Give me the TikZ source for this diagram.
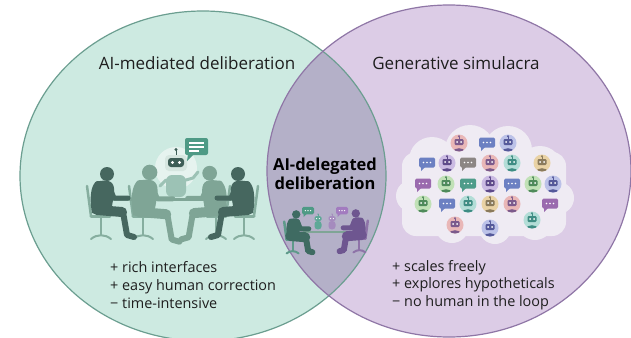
\documentclass[tikz,border=0pt]{standalone}
\usepackage{fontspec}
\setmainfont{Open Sans}
\definecolor{lfill}{HTML}{CDEAE1}
\definecolor{lline}{HTML}{6B9E90}
\definecolor{rfill}{HTML}{DCCCE6}
\definecolor{rline}{HTML}{8F76A6}
\definecolor{ofill}{HTML}{B4B0C8}
\definecolor{txt}{HTML}{1E1E1E}
\definecolor{darkfig}{HTML}{46675F}
\definecolor{lightfig}{HTML}{7FA596}
\definecolor{chaircol}{HTML}{86AE9F}
\definecolor{glow}{HTML}{E6F3EF}
\definecolor{rhead}{HTML}{D6E6E0}
\definecolor{visor}{HTML}{3E5E57}
\definecolor{rbody}{HTML}{9CC2B5}
\definecolor{tealbub}{HTML}{4E9A85}
\definecolor{mteal}{HTML}{3F6B62}
\definecolor{mpurple}{HTML}{6E5690}
\definecolor{mtealchair}{HTML}{5E9A8A}
\definecolor{mpurchair}{HTML}{8E73A8}
\definecolor{mtealbot}{HTML}{5EA897}
\definecolor{mpurbot}{HTML}{A58BBE}
\definecolor{mpurbub}{HTML}{A27BBF}
\definecolor{cloudcol}{HTML}{EFEBF3}
\definecolor{pinkbg}{HTML}{E9B7B7}\definecolor{pinkfg}{HTML}{7B5A8C}
\definecolor{bluebg}{HTML}{BCC2E8}\definecolor{bluefg}{HTML}{55599A}
\definecolor{tealbg}{HTML}{B3DDD7}\definecolor{tealfg}{HTML}{3E8C83}
\definecolor{tanbg}{HTML}{E9D2A5}\definecolor{tanfg}{HTML}{8A7A5C}
\definecolor{greenbg}{HTML}{C1E1B7}\definecolor{greenfg}{HTML}{4F8A5B}
\definecolor{purpbg}{HTML}{CBBBE3}\definecolor{purpfg}{HTML}{5E4A8A}
\definecolor{bubblue}{HTML}{6C80C2}
\definecolor{bubgray}{HTML}{8C8684}
\definecolor{bubteal}{HTML}{4E9C8A}
\definecolor{bubpurp}{HTML}{9A6AAE}
\tikzset{
  titletext/.style={text=txt, font=\fontsize{17}{20}\selectfont, inner sep=0pt},
  midtext/.style={text=black, font=\fontsize{16.5}{18.5}\selectfont\bfseries, align=center, inner sep=0pt},
  listtext/.style={text=txt, font=\fontsize{14.4}{17.6}\selectfont, align=left, inner sep=0pt, anchor=west},
  pics/seated/.style={code={
    \fill[#1] (7,-36) circle (7);
    \fill[#1] (0,-29) .. controls (12,-31) and (15,-26) .. (14,-16) -- (12,-4) -- (10,3) -- (-8,3) .. controls (-10,-8) and (-10,-20) .. (-6,-26) .. controls (-4,-29) .. cycle;
    \draw[#1, line width=5, line cap=round, line join=round] (9,-24) -- (14,-12) -- (28,-12);
    \draw[#1, line width=10, line cap=round] (-3,0) -- (22,2);
    \draw[#1, line width=6, line cap=round, line join=round] (23,2) -- (27,25) -- (34,27);
  }},
  pics/chair/.style={code={
    \draw[#1, line width=2.5, line cap=round] (-13,-24) -- (-9,6);
    \draw[#1, line width=3, line cap=round] (-9,6) -- (10,6);
    \draw[#1, line width=2] (1,6) -- (1,25);
    \draw[#1, line width=2, line cap=round] (-9,29) .. controls (-3,24) and (5,24) .. (11,29);
  }},
  pics/ricon/.style 2 args={code={
    \fill[#1] (0,0) circle (8.5);
    \begin{scope}
      \clip (0,0) circle (8.5);
      \fill[#2] (-6,9) .. controls (-6,3.5) and (6,3.5) .. (6,9) -- cycle;
    \end{scope}
    \fill[#2, rounded corners=1.2pt] (-4.5,-4) rectangle (4.5,2);
    \fill[white] (-2,-1) circle (1) (2,-1) circle (1);
    \draw[#2, line width=0.8pt] (0,-4) -- (0,-6.5);
    \fill[#2] (0,-6.8) circle (1.1);
  }},
  pics/bicon/.style={code={
    \fill[#1, rounded corners=1.5pt] (-8,-5.5) rectangle (8,4.5);
    \fill[#1] (-6,4) -- (-2,4) -- (-6,8) -- cycle;
    \fill[white] (-3.5,-0.5) circle (0.9) (0,-0.5) circle (0.9) (3.5,-0.5) circle (0.9);
  }},
  pics/minibot/.style={code={
    \fill[#1, rounded corners=3pt] (-5,0) rectangle (5,12);
    \fill[#1, rounded corners=1.5pt] (-5,-7) rectangle (5,0);
    \fill[white] (-2,-3.5) circle (0.9) (2,-3.5) circle (0.9);
    \draw[#1, line width=0.8pt] (0,-7) -- (0,-9.5);
    \fill[#1] (0,-9.8) circle (1);
  }}
}
\begin{document}
\begin{tikzpicture}[x=1pt, y=-1pt]
\useasboundingbox (0,0) rectangle (631,337);
\fill[white] (0,0) rectangle (631,337);
% ellipses
\fill[lfill] (203,176) ellipse [x radius=183pt, y radius=165pt];
\fill[rfill] (449,171) ellipse [x radius=182pt, y radius=166pt];
\begin{scope}
  \clip (203,176) ellipse [x radius=183pt, y radius=165pt];
  \fill[ofill] (449,171) ellipse [x radius=182pt, y radius=166pt];
\end{scope}
\draw[lline, line width=1.2pt] (203,176) ellipse [x radius=183pt, y radius=165pt];
\draw[rline, line width=1.2pt] (449,171) ellipse [x radius=182pt, y radius=166pt];

% titles
\node[titletext] (tl) at (197,63) {AI-mediated deliberation};
\node[titletext] (tr) at (456,63) {Generative simulacra};
\node[midtext] (tm) at (325,174) {AI-delegated\\deliberation};

% left scene
\fill[glow] (176,168) circle (21);
\pic at (100,210) {chair=chaircol};
\pic at (142,210) {chair=chaircol};
\pic[xscale=-1] at (217,210) {chair=chaircol};
\pic[xscale=-1] at (245,210) {chair=chaircol};
% robot
\fill[rbody, rounded corners=6pt] (166,175) rectangle (186,197);
\draw[rbody, line width=3, line cap=round] (186,180) -- (193,178) -- (198,172);
\draw[rbody, line width=3, line cap=round] (166,180) -- (160,186);
\fill[rhead, rounded corners=4pt] (165,155) rectangle (187,171);
\fill[visor, rounded corners=3pt] (168,158) rectangle (184,167);
\fill[white] (172.5,162.5) circle (1.6) (179.5,162.5) circle (1.6);
\draw[visor, line width=1pt] (176,155) -- (176,150);
\fill[visor] (176,149.5) circle (1.6);
% speech bubble
\fill[tealbub, rounded corners=2pt] (185,138) rectangle (208,155);
\fill[tealbub] (188,154) -- (194,154) -- (187,161) -- cycle;
\draw[white, line width=1.2pt] (189,143) -- (204,143) (189,147) -- (204,147) (189,151) -- (199,151);
% people
\pic[scale=1.1] at (142,212) {seated=lightfig};
\pic[xscale=-1.05, yscale=1.05] at (217,211) {seated=lightfig};
\draw[lightfig, line width=3] (112,199) -- (236,199);
\pic at (100,210) {seated=darkfig};
\pic[xscale=-1] at (245,210) {seated=darkfig};

% middle scene
\pic[scale=0.6] at (292,236) {chair=mtealchair};
\pic[xscale=-0.6, yscale=0.6] at (360,235) {chair=mpurchair};
\pic[scale=0.7] at (318,221) {minibot=mtealbot};
\pic[scale=0.7] at (332,221) {minibot=mpurbot};
\pic[scale=0.75] at (308,211) {bicon=tealbub};
\pic[scale=0.75] at (342,211) {bicon=mpurbub};
\draw[lightfig, line width=2] (303,232) -- (347,232);
\pic[scale=0.6] at (292,236) {seated=mteal};
\pic[xscale=-0.6, yscale=0.6] at (360,235) {seated=mpurple};

% cloud
\begin{scope}
\fill[cloudcol, rounded corners=14pt] (402,152) rectangle (566,236);
\fill[cloudcol] (432,160) circle (23) (470,150) circle (25) (508,150) circle (24)
  (540,168) circle (22) (412,196) circle (16) (558,198) circle (16)
  (452,226) circle (17) (495,228) circle (16) (535,222) circle (18);
\end{scope}
% row 1
\pic at (459,143) {ricon={pinkbg}{pinkfg}};
\pic at (487,143) {bicon=bubblue};
\pic at (508,143) {ricon={bluebg}{bluefg}};
% row 2
\pic at (427,163) {bicon=bubblue};
\pic at (447,163) {ricon={purpbg}{purpfg}};
\pic at (468,163) {bicon=bubgray};
\pic at (490,163) {ricon={pinkbg}{pinkfg}};
\pic at (512,163) {ricon={tealbg}{tealfg}};
\pic at (542,163) {ricon={tanbg}{tanfg}};
% row 3
\pic at (423,184) {bicon=bubpurp};
\pic at (446,184) {ricon={greenbg}{greenfg}};
\pic at (468,184) {bicon=bubteal};
\pic at (490,184) {ricon={purpbg}{purpfg}};
\pic at (512,184) {bicon=bubblue};
\pic at (533,184) {ricon={greenbg}{greenfg}};
\pic at (553,184) {ricon={bluebg}{bluefg}};
% row 4
\pic at (423,204) {ricon={greenbg}{greenfg}};
\pic at (447,204) {bicon=bubblue};
\pic at (468,204) {ricon={tealbg}{tealfg}};
\pic at (490,204) {ricon={tanbg}{tanfg}};
\pic at (512,204) {ricon={pinkbg}{pinkfg}};
\pic at (550,204) {bicon=bubpurp};
% row 5
\pic at (455,225) {ricon={pinkbg}{pinkfg}};
\pic at (490,228) {ricon={bluebg}{bluefg}};
\pic at (532,220) {ricon={tealbg}{tealfg}};

% lists
\node[listtext] (ll) at (110,285) {+ rich interfaces\\+ easy human correction\\− time-intensive};
\node[listtext] (rl) at (392,285) {+ scales freely\\+ explores hypotheticals\\− no human in the loop};
\end{tikzpicture}
\end{document}
